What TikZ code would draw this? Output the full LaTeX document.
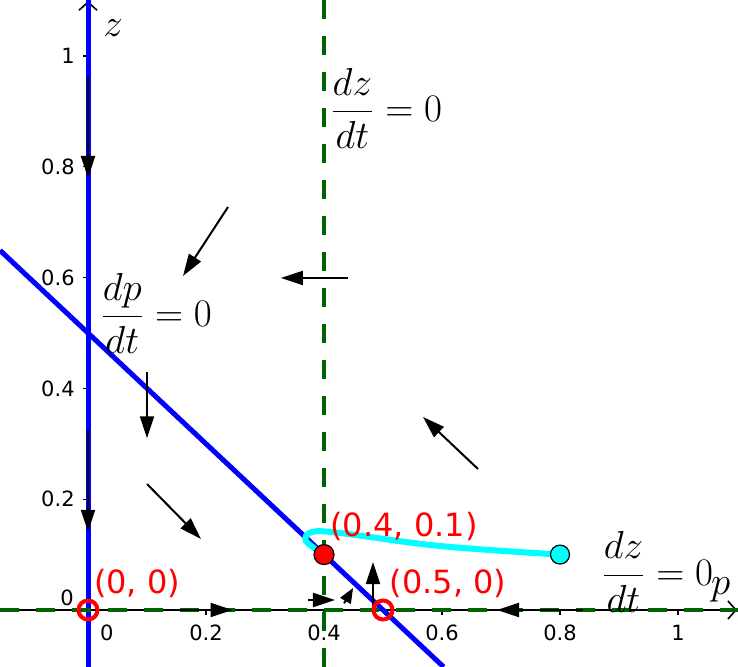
\RequirePackage{fix-cm}
\documentclass[tikz,border=0pt]{standalone}
\usepackage{amsmath}
\usepackage{fontspec}
\newfontfamily\lblfont{DejaVu Sans}
\usepackage{tikz}
\usetikzlibrary{arrows.meta}
\definecolor{dkgreen}{RGB}{0,100,0}
\definecolor{trajcyan}{RGB}{0,255,255}

\begin{document}
\begin{tikzpicture}[x=295pt,y=277pt,
    flow/.style={draw=black, line width=1pt, -{Triangle[length=11pt,width=7pt]}},
    axis/.style={draw=black, line width=0.8pt, -{Straight Barb[length=4pt,width=9pt]}},
    nullz/.style={draw=dkgreen, line width=2.2pt, dash pattern=on 9.5pt off 8.5pt},
    nullp/.style={draw=blue, line width=2.5pt},
    ticklbl/.style={font=\lblfont\fontsize{10.5}{12}\selectfont, inner sep=0pt},
    ptlbl/.style={font=\lblfont\fontsize{16}{18}\selectfont, text=red, inner sep=0pt},
    mathlbl/.style={font=\fontsize{19.5}{22}\selectfont, inner sep=0pt},
    eqlbl/.style={mathlbl, anchor=west},
    open/.style={circle, draw=red, line width=2pt, minimum size=9.5pt, inner sep=0pt},
    fixpt/.style={circle, draw=black, line width=0.6pt, minimum size=10pt, inner sep=0pt}]
        \useasboundingbox (-0.14915,-0.10289) rectangle (1.10169,1.10108);
        % axes
        \draw[axis] (-0.14915,0) -- (1.1,0);
        \draw[axis] (0,-0.10289) -- (0,1.099);
        \foreach \v in {0.2,0.4,0.6,0.8,1} {
            \draw[line width=0.6pt] (\v,0) -- ++(0,-2.5pt);
            \draw[line width=0.6pt] (0,\v) -- ++(-2.5pt,0);
            \node[ticklbl] at (\v,-0.0415) {\v};
            \node[ticklbl, anchor=east] at (-0.022,\v) {\v};
        }
        \node[ticklbl] at (0.032,-0.0415) {0};
        \node[ticklbl] at (-0.0356,0.0217) {0};
        \node[mathlbl] (zl) at (0.0424,1.0505) {$z$};
        \node[mathlbl] (pl) at (1.0725,0.036) {$p$};
        % nullclines
        \draw[nullp] (0,-0.10289) -- (0,1.10108);
        \draw[nullp] (-0.14915,0.64915) -- (0.60289,-0.10289);
        \draw[nullz] (0.4,-0.10289) -- (0.4,1.10108);
        \draw[nullz] (-0.14915,0) -- (1.10169,0);
        % trajectory
        \draw[trajcyan, line width=3pt, line cap=round] plot[smooth, tension=0.6] coordinates
            {(0.8,0.1) (0.5966,0.1155) (0.4271,0.139) (0.3797,0.1408) (0.3695,0.1245) (0.4,0.1)};
        % direction field
        \draw[flow] (0,0.962) -- (0,0.7798);
        \draw[flow] (0.2373,0.7274) -- (0.1610,0.6029);
        \draw[flow] (0.441,0.5993) -- (0.327,0.5993);
        \draw[flow] (0.1,0.4296) -- (0.1,0.31);
        \draw[flow] (0,0.325) -- (0,0.141);
        \draw[flow] (0.1,0.2274) -- (0.1915,0.1282);
        \draw[flow] (0.661,0.2545) -- (0.5678,0.3484);
        \draw[flow] (0.13,0) -- (0.245,0);
        \draw[flow] (0.3729,0.018) -- (0.4186,0.018);
        \draw[flow, -{Triangle[length=7.5pt,width=6pt]}] (0.434,0.012) -- (0.4492,0.0397);
        \draw[flow] (0.483,-0.004) -- (0.483,0.0866);
        \draw[flow] (0.839,0) -- (0.6932,0);
        % equilibria
        \node[open] (o) at (0,0) {};
        \node[open] (e) at (0.5,0) {};
        \node[fixpt, fill=red] (s) at (0.4,0.1) {};
        \node[fixpt, fill=trajcyan, minimum size=9.5pt] (c) at (0.8,0.1) {};
        \node[ptlbl] (lo) at (0.0831,0.0487) {(0, 0)};
        \node[ptlbl] (ls) at (0.5356,0.1516) {(0.4, 0.1)};
        \node[ptlbl] (le) at (0.6102,0.0487) {(0.5, 0)};
        % labels
        \node[eqlbl] (dz1) at (0.41,0.906) {$\displaystyle\frac{dz}{dt} = 0$};
        \node[eqlbl] (dp) at (0.0203,0.536) {$\displaystyle\frac{dp}{dt} = 0$};
        \node[eqlbl] (dz2) at (0.8695,0.0686) {$\displaystyle\frac{dz}{dt} = 0$};
\end{tikzpicture}
\end{document}
